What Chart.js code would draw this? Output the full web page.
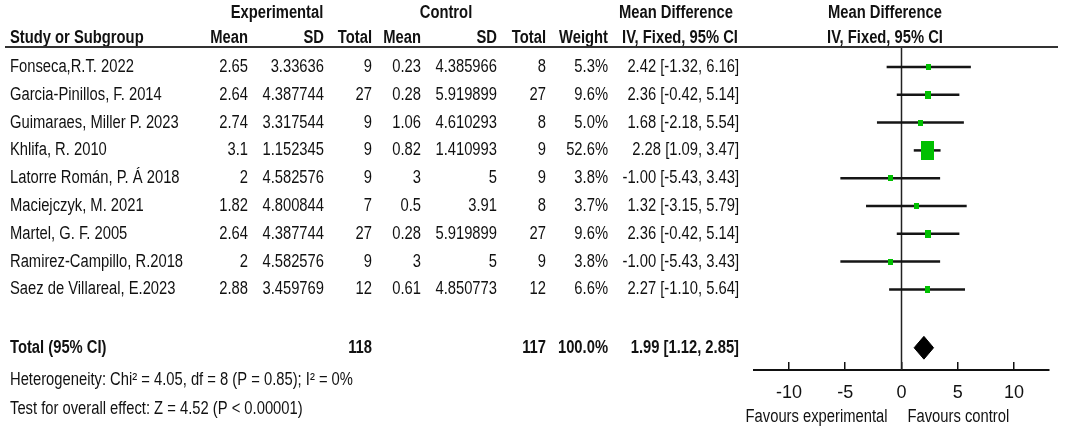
<!DOCTYPE html>
<html>
<head>
<meta charset="utf-8">
<script src="https://cdn.jsdelivr.net/npm/chart.js@4.4.1/dist/chart.umd.min.js"></script>
<style>
  html, body { margin: 0; padding: 0; background: #fff; }
  #wrap { width: 1065px; height: 431px; }
</style>
</head>
<body>
<div id="wrap"><canvas id="forest" width="1065" height="431"></canvas></div>
<script>
// Datos
const studies = [
  'Fonseca,R.T. 2022',
  'Garcia-Pinillos, F. 2014',
  'Guimaraes, Miller P. 2023',
  'Khlifa, R. 2010',
  'Latorre Román, P. Á 2018',
  'Maciejczyk, M. 2021',
  'Martel, G. F. 2005',
  'Ramirez-Campillo, R.2018',
  'Saez de Villareal, E.2023'
];
const expMean = [2.65, 2.64, 2.74, 3.1, 2, 1.82, 2.64, 2, 2.88];
const expSD = [3.33636, 4.387744, 3.317544, 1.152345, 4.582576, 4.800844, 4.387744, 4.582576, 3.459769];
const expTotal = [9, 27, 9, 9, 9, 7, 27, 9, 12];
const ctrlMean = [0.23, 0.28, 1.06, 0.82, 3, 0.5, 0.28, 3, 0.61];
const ctrlSD = [4.385966, 5.919899, 4.610293, 1.410993, 5, 3.91, 5.919899, 5, 4.850773];
const ctrlTotal = [8, 27, 8, 9, 9, 8, 27, 9, 12];
const weights = [5.3, 9.6, 5.0, 52.6, 3.8, 3.7, 9.6, 3.8, 6.6];
const meanDiff = [2.42, 2.36, 1.68, 2.28, -1.00, 1.32, 2.36, -1.00, 2.27];
const ciLow = [-1.32, -0.42, -2.18, 1.09, -5.43, -3.15, -0.42, -5.43, -1.10];
const ciHigh = [6.16, 5.14, 5.54, 3.47, 3.43, 5.79, 5.14, 3.43, 5.64];

const totalExp = 118;
const totalCtrl = 117;
const totalWeight = 100.0;
const totalMD = 1.99;
const totalLow = 1.12;
const totalHigh = 2.85;

const xTicks = [-10, -5, 0, 5, 10];
const heterogeneityText = 'Heterogeneity: Chi² = 4.05, df = 8 (P = 0.85); I² = 0%';
const overallText = 'Test for overall effect: Z = 4.52 (P < 0.00001)';
const favoursLeft = 'Favours experimental';
const favoursRight = 'Favours control';

// filas en el eje y (indice de fila)
const rows = studies.map((s, i) => i + 1);
const TOTAL_ROW = 11.1;
const Y_MIN = 0.28;
const Y_MAX = 11.9;
const DIAMOND_HALF = 0.41;

// Fuente estrecha si existe, si no se comprime Liberation Sans
function elegirFuente() {
  var c = document.createElement('canvas').getContext('2d');
  c.font = '18px "Liberation Sans Narrow", monospace';
  var a = c.measureText('Heterogeneity 0123').width;
  c.font = '18px monospace';
  var b = c.measureText('Heterogeneity 0123').width;
  if (Math.abs(a - b) > 0.5) {
    return { family: '"Liberation Sans Narrow"', sx: 1 };
  }
  return { family: '"Liberation Sans", Arial, sans-serif', sx: 0.82 };
}
const FUENTE = elegirFuente();

function texto(ctx, str, x, y, align, bold) {
  ctx.save();
  ctx.font = (bold ? 'bold ' : '') + '18px ' + FUENTE.family;
  ctx.fillStyle = '#111';
  ctx.textBaseline = 'middle';
  ctx.textAlign = align;
  ctx.translate(x, y);
  ctx.scale(FUENTE.sx, 1);
  ctx.fillText(str, 0, 0);
  ctx.restore();
}

function fmtCI(md, lo, hi) {
  return md.toFixed(2) + ' [' + lo.toFixed(2) + ', ' + hi.toFixed(2) + ']';
}

// cuadros verdes, area segun el peso
function crearCaja(peso) {
  var w = Math.max(5, Math.round(1.8 * Math.sqrt(peso)));
  var h = Math.max(6, Math.round(2.6 * Math.sqrt(peso)));
  var cv = document.createElement('canvas');
  cv.width = w;
  cv.height = h;
  var g = cv.getContext('2d');
  g.fillStyle = '#00c000';
  g.fillRect(0, 0, w, h);
  return cv;
}
const cajas = weights.map(crearCaja);

// columnas de la tabla (borde derecho salvo el nombre)
const COL = { name: 10, expMean: 248, expSD: 324, expN: 372, ctrlMean: 421, ctrlSD: 497, ctrlN: 546, weight: 608, ci: 739 };

const tablaPlugin = {
  id: 'tabla',
  afterDraw: function(chart) {
    var ctx = chart.ctx;
    var ys = chart.scales.y;
    var xs = chart.scales.x;
    var area = chart.chartArea;
    var py = v => ys.getPixelForValue(v);

    // cabecera
    var h1 = py(-0.95), h2 = py(-0.05);
    texto(ctx, 'Experimental', 277, h1, 'center', true);
    texto(ctx, 'Control', 446, h1, 'center', true);
    texto(ctx, 'Mean Difference', 676, h1, 'center', true);
    texto(ctx, 'Mean Difference', 885, h1, 'center', true);
    texto(ctx, 'Study or Subgroup', COL.name, h2, 'left', true);
    texto(ctx, 'Mean', COL.expMean, h2, 'right', true);
    texto(ctx, 'SD', COL.expSD, h2, 'right', true);
    texto(ctx, 'Total', COL.expN, h2, 'right', true);
    texto(ctx, 'Mean', COL.ctrlMean, h2, 'right', true);
    texto(ctx, 'SD', COL.ctrlSD, h2, 'right', true);
    texto(ctx, 'Total', COL.ctrlN, h2, 'right', true);
    texto(ctx, 'Weight', COL.weight, h2, 'right', true);
    texto(ctx, 'IV, Fixed, 95% CI', 680, h2, 'center', true);
    texto(ctx, 'IV, Fixed, 95% CI', 885, h2, 'center', true);

    ctx.save();
    ctx.strokeStyle = '#333';
    ctx.lineWidth = 2;
    ctx.beginPath();
    ctx.moveTo(5, area.top);
    ctx.lineTo(1058, area.top);
    ctx.stroke();
    ctx.restore();

    // filas de estudios
    for (var i = 0; i < studies.length; i++) {
      var y = py(rows[i]);
      texto(ctx, studies[i], COL.name, y, 'left', false);
      texto(ctx, String(expMean[i]), COL.expMean, y, 'right', false);
      texto(ctx, String(expSD[i]), COL.expSD, y, 'right', false);
      texto(ctx, String(expTotal[i]), COL.expN, y, 'right', false);
      texto(ctx, String(ctrlMean[i]), COL.ctrlMean, y, 'right', false);
      texto(ctx, String(ctrlSD[i]), COL.ctrlSD, y, 'right', false);
      texto(ctx, String(ctrlTotal[i]), COL.ctrlN, y, 'right', false);
      texto(ctx, weights[i].toFixed(1) + '%', COL.weight, y, 'right', false);
      texto(ctx, fmtCI(meanDiff[i], ciLow[i], ciHigh[i]), COL.ci, y, 'right', false);
    }

    // total y pie
    var yt = py(TOTAL_ROW);
    texto(ctx, 'Total (95% CI)', COL.name, yt, 'left', true);
    texto(ctx, String(totalExp), COL.expN, yt, 'right', true);
    texto(ctx, String(totalCtrl), COL.ctrlN, yt, 'right', true);
    texto(ctx, totalWeight.toFixed(1) + '%', COL.weight, yt, 'right', true);
    texto(ctx, fmtCI(totalMD, totalLow, totalHigh), COL.ci, yt, 'right', true);
    texto(ctx, heterogeneityText, COL.name, py(12.25), 'left', false);
    texto(ctx, overallText, COL.name, py(13.3), 'left', false);

    var x0 = xs.getPixelForValue(0);
    texto(ctx, favoursLeft, x0 - 14, 417, 'right', false);
    texto(ctx, favoursRight, x0 + 6, 417, 'left', false);
  }
};

var datasets = [];
datasets.push({
  label: 'boxes',
  data: meanDiff.map((m, i) => ({ x: m, y: rows[i] })),
  showLine: false,
  pointStyle: ctx => cajas[ctx.dataIndex],
  pointRadius: 5,
  order: 0
});
for (var i = 0; i < studies.length; i++) {
  datasets.push({
    label: studies[i],
    data: [{ x: ciLow[i], y: rows[i] }, { x: ciHigh[i], y: rows[i] }],
    borderColor: '#151515',
    borderWidth: 2.5,
    pointRadius: 0,
    fill: false,
    order: 2
  });
}
datasets.push({
  label: 'diamond-top',
  data: [{ x: totalLow, y: TOTAL_ROW }, { x: totalMD, y: TOTAL_ROW - DIAMOND_HALF }, { x: totalHigh, y: TOTAL_ROW }],
  borderColor: '#000',
  backgroundColor: '#000',
  borderWidth: 1,
  pointRadius: 0,
  fill: '+1',
  order: 1
});
datasets.push({
  label: 'diamond-bottom',
  data: [{ x: totalLow, y: TOTAL_ROW }, { x: totalMD, y: TOTAL_ROW + DIAMOND_HALF }, { x: totalHigh, y: TOTAL_ROW }],
  borderColor: '#000',
  backgroundColor: '#000',
  borderWidth: 1,
  pointRadius: 0,
  fill: false,
  order: 1
});
datasets.push({
  label: 'zero',
  data: [{ x: 0, y: Y_MIN }, { x: 0, y: Y_MAX }],
  borderColor: '#222',
  borderWidth: 1.5,
  pointRadius: 0,
  fill: false,
  order: 3
});

var canvas = document.getElementById('forest');
canvas.chart = new Chart(canvas.getContext('2d'), {
  type: 'line',
  data: { datasets: datasets },
  plugins: [tablaPlugin],
  options: {
    responsive: false,
    animation: false,
    events: [],
    layout: { padding: { left: 754, right: 16, top: 47, bottom: 31 } },
    plugins: {
      legend: { display: false },
      tooltip: { enabled: false }
    },
    elements: { line: { tension: 0 } },
    scales: {
      x: {
        type: 'linear',
        min: -13.1,
        max: 13.1,
        afterBuildTicks: function(scale) {
          scale.ticks = xTicks.map(v => ({ value: v }));
        },
        afterFit: function(scale) {
          scale.height = 30;
        },
        ticks: {
          font: { family: FUENTE.family, size: 18 },
          color: '#111',
          padding: 20,
          maxRotation: 0,
          autoSkip: false
        },
        grid: {
          drawOnChartArea: false,
          drawTicks: true,
          tickLength: -8,
          color: '#111',
          lineWidth: 1.5
        },
        border: { display: true, color: '#111', width: 2 }
      },
      y: {
        type: 'linear',
        reverse: true,
        min: Y_MIN,
        max: Y_MAX,
        display: false
      }
    }
  }
});
</script>
</body>
</html>
